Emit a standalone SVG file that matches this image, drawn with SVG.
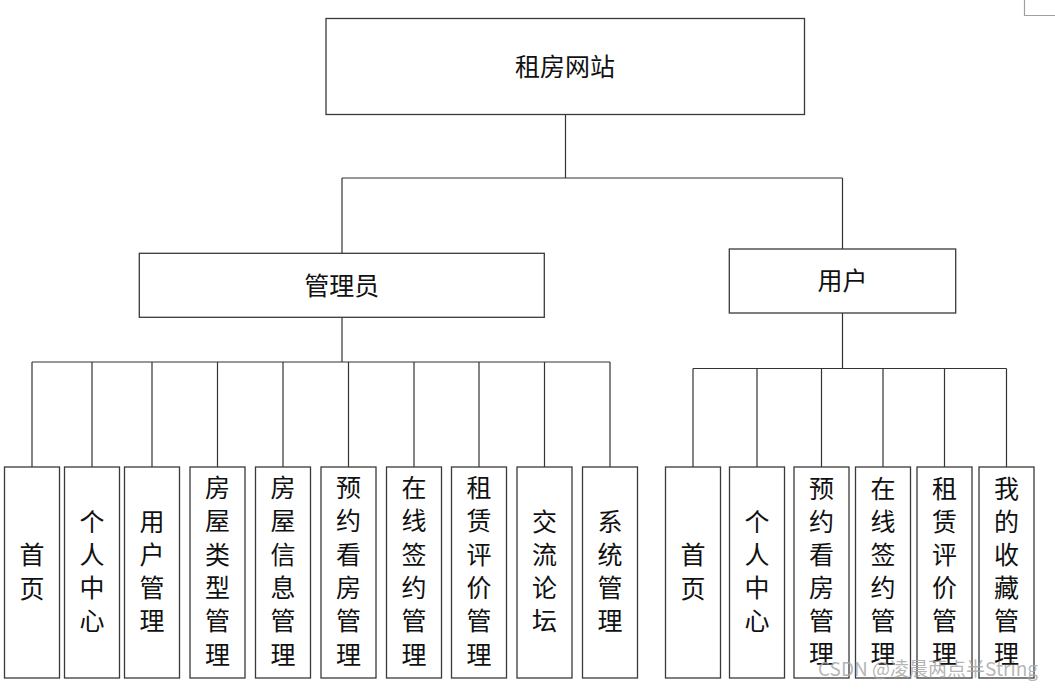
<svg xmlns="http://www.w3.org/2000/svg" width="1055" height="689" viewBox="0 0 1055 689">
<style>
.box{fill:#fff;stroke:#3a3a3a;stroke-width:1.3}
.lbl{font-family:"Noto Sans CJK SC","Microsoft YaHei",sans-serif;font-size:25px;fill:#111;text-anchor:middle;dominant-baseline:central}
.con{stroke:#333;stroke-width:1.2;fill:none}
.wm{font-family:"Noto Sans CJK SC","Liberation Sans",sans-serif;font-size:19px;fill:#a8a8a8;fill-opacity:0.85}
</style>
<rect x="0" y="0" width="1055" height="689" fill="#fff"/>
<path d="M1024.5 0 V15.5 H1055" stroke="#a0a0a0" stroke-width="1.2" fill="none"/>
<g id="connectors" class="con">
<path d="M565.5 114 V178 M342 178 H842.5 M342 178 V253 M842.5 178 V249"/>
<path d="M342 317 V362 M32 362 H610 M32 362 V467 M92 362 V467 M152 362 V467 M217.5 362 V467 M283 362 V467 M348.5 362 V467 M414 362 V467 M479 362 V467 M544.5 362 V467 M610 362 V467"/>
<path d="M842.5 313 V368.5 M693 368.5 H1006.5 M693 368.5 V467 M757 368.5 V467 M821.5 368.5 V467 M883 368.5 V467 M944.5 368.5 V467 M1006.5 368.5 V467"/>
</g>
<g id="root"><rect class="box" x="326" y="18.5" width="478.5" height="96"/><text class="lbl" x="565" y="64.5">租房网站</text></g>
<g id="admin"><rect class="box" x="139.3" y="253.3" width="405" height="64"/><text class="lbl" x="341.8" y="283.5">管理员</text></g>
<g id="user"><rect class="box" x="729.3" y="249" width="226.4" height="64"/><text class="lbl" x="842.5" y="279">用户</text></g>
<g id="a1"><rect class="box" x="4.5" y="467" width="55" height="211"/><text class="lbl" x="32"><tspan x="32" y="553">首</tspan><tspan x="32" y="586.5">页</tspan></text></g>
<g id="a2"><rect class="box" x="64.5" y="467" width="55" height="211"/><text class="lbl" x="92"><tspan x="92" y="519.5">个</tspan><tspan x="92" y="552.8">人</tspan><tspan x="92" y="586.1">中</tspan><tspan x="92" y="619.4">心</tspan></text></g>
<g id="a3"><rect class="box" x="124.5" y="467" width="55" height="211"/><text class="lbl" x="152"><tspan x="152" y="519.5">用</tspan><tspan x="152" y="552.8">户</tspan><tspan x="152" y="586.1">管</tspan><tspan x="152" y="619.4">理</tspan></text></g>
<g id="a4"><rect class="box" x="190" y="467" width="55" height="211"/><text class="lbl" x="217.5"><tspan x="217.5" y="486">房</tspan><tspan x="217.5" y="519.3">屋</tspan><tspan x="217.5" y="552.6">类</tspan><tspan x="217.5" y="585.9">型</tspan><tspan x="217.5" y="619.2">管</tspan><tspan x="217.5" y="652.5">理</tspan></text></g>
<g id="a5"><rect class="box" x="255.5" y="467" width="55" height="211"/><text class="lbl" x="283"><tspan x="283" y="486">房</tspan><tspan x="283" y="519.3">屋</tspan><tspan x="283" y="552.6">信</tspan><tspan x="283" y="585.9">息</tspan><tspan x="283" y="619.2">管</tspan><tspan x="283" y="652.5">理</tspan></text></g>
<g id="a6"><rect class="box" x="321" y="467" width="55" height="211"/><text class="lbl" x="348.5"><tspan x="348.5" y="486">预</tspan><tspan x="348.5" y="519.3">约</tspan><tspan x="348.5" y="552.6">看</tspan><tspan x="348.5" y="585.9">房</tspan><tspan x="348.5" y="619.2">管</tspan><tspan x="348.5" y="652.5">理</tspan></text></g>
<g id="a7"><rect class="box" x="386.5" y="467" width="55" height="211"/><text class="lbl" x="414"><tspan x="414" y="486">在</tspan><tspan x="414" y="519.3">线</tspan><tspan x="414" y="552.6">签</tspan><tspan x="414" y="585.9">约</tspan><tspan x="414" y="619.2">管</tspan><tspan x="414" y="652.5">理</tspan></text></g>
<g id="a8"><rect class="box" x="451.5" y="467" width="55" height="211"/><text class="lbl" x="479"><tspan x="479" y="486">租</tspan><tspan x="479" y="519.3">赁</tspan><tspan x="479" y="552.6">评</tspan><tspan x="479" y="585.9">价</tspan><tspan x="479" y="619.2">管</tspan><tspan x="479" y="652.5">理</tspan></text></g>
<g id="a9"><rect class="box" x="517" y="467" width="55" height="211"/><text class="lbl" x="544.5"><tspan x="544.5" y="519.5">交</tspan><tspan x="544.5" y="552.8">流</tspan><tspan x="544.5" y="586.1">论</tspan><tspan x="544.5" y="619.4">坛</tspan></text></g>
<g id="a10"><rect class="box" x="582.5" y="467" width="55" height="211"/><text class="lbl" x="610"><tspan x="610" y="519.5">系</tspan><tspan x="610" y="552.8">统</tspan><tspan x="610" y="586.1">管</tspan><tspan x="610" y="619.4">理</tspan></text></g>
<g id="u1"><rect class="box" x="665.5" y="467" width="55" height="211"/><text class="lbl" x="693"><tspan x="693" y="553">首</tspan><tspan x="693" y="586.5">页</tspan></text></g>
<g id="u2"><rect class="box" x="729.5" y="467" width="55" height="211"/><text class="lbl" x="757"><tspan x="757" y="519.5">个</tspan><tspan x="757" y="552.8">人</tspan><tspan x="757" y="586.1">中</tspan><tspan x="757" y="619.4">心</tspan></text></g>
<g id="u3"><rect class="box" x="794" y="467" width="55" height="211"/><text class="lbl" x="821.5"><tspan x="821.5" y="487">预</tspan><tspan x="821.5" y="519.9">约</tspan><tspan x="821.5" y="552.8">看</tspan><tspan x="821.5" y="585.7">房</tspan><tspan x="821.5" y="618.6">管</tspan><tspan x="821.5" y="651.5">理</tspan></text></g>
<g id="u4"><rect class="box" x="855.5" y="467" width="55" height="211"/><text class="lbl" x="883"><tspan x="883" y="487">在</tspan><tspan x="883" y="519.9">线</tspan><tspan x="883" y="552.8">签</tspan><tspan x="883" y="585.7">约</tspan><tspan x="883" y="618.6">管</tspan><tspan x="883" y="651.5">理</tspan></text></g>
<g id="u5"><rect class="box" x="917" y="467" width="55" height="211"/><text class="lbl" x="944.5"><tspan x="944.5" y="487">租</tspan><tspan x="944.5" y="519.9">赁</tspan><tspan x="944.5" y="552.8">评</tspan><tspan x="944.5" y="585.7">价</tspan><tspan x="944.5" y="618.6">管</tspan><tspan x="944.5" y="651.5">理</tspan></text></g>
<g id="u6"><rect class="box" x="979" y="467" width="55" height="211"/><text class="lbl" x="1006.5"><tspan x="1006.5" y="487">我</tspan><tspan x="1006.5" y="519.9">的</tspan><tspan x="1006.5" y="552.8">收</tspan><tspan x="1006.5" y="585.7">藏</tspan><tspan x="1006.5" y="618.6">管</tspan><tspan x="1006.5" y="651.5">理</tspan></text></g>
<text class="wm" x="818" y="676" textLength="220" lengthAdjust="spacingAndGlyphs">CSDN @凌晨两点半String</text>
</svg>
